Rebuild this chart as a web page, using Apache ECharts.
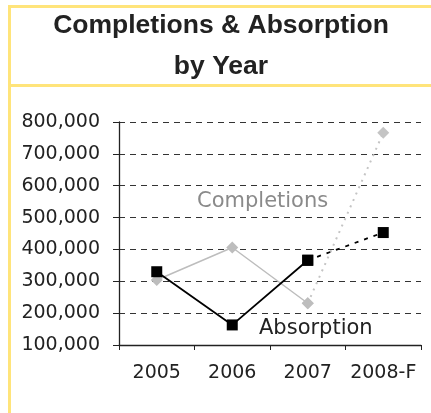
<!DOCTYPE html>
<html>
<head>
<meta charset="utf-8">
<script src="https://cdn.jsdelivr.net/npm/echarts@6/dist/echarts.min.js"></script>
<style>
  html, body { margin: 0; padding: 0; background: #fff; }
  #chart { width: 431px; height: 413px; }
</style>
</head>
<body>
<div id="chart"></div>
<script>
// Annual figures; 2008 is a forecast
const years = ['2005', '2006', '2007', '2008-F'];
const completions = [304000, 406000, 231000, 766000];
const absorption = [330000, 163000, 366000, 453000];
const yTicks = { min: 100000, max: 800000, step: 100000 };

// Actual years drawn solid, the forecast leg drawn as a broken line
const lastActual = 2;
const actualPart = arr => arr.map((v, i) => (i <= lastActual ? v : null));
const forecastPart = arr => arr.map((v, i) => (i >= lastActual ? v : null));

const frameColor = '#ffe47a';
const tickFont = '"DejaVu Sans", Verdana, sans-serif';
const titleFont = 'bold 26.5px "Liberation Sans", Arial, sans-serif';

const chart = echarts.init(document.getElementById('chart'), null, { renderer: 'canvas' });

chart.setOption({
  animation: false,
  backgroundColor: '#fff',
  grid: { left: 119, right: 10, top: 122, bottom: 68, containLabel: false },
  xAxis: {
    type: 'category',
    data: years,
    boundaryGap: true,
    axisLine: { lineStyle: { color: '#222', width: 1.3 } },
    axisTick: { show: true, length: 5, lineStyle: { color: '#222' } },
    axisLabel: {
      color: '#222', fontSize: 19, fontFamily: tickFont, margin: 19,
      interval: 0, hideOverlap: false
    }
  },
  yAxis: {
    type: 'value',
    min: yTicks.min,
    max: yTicks.max,
    interval: yTicks.step,
    axisLine: { show: true, lineStyle: { color: '#222', width: 1.3 } },
    axisTick: { show: true, length: 6, lineStyle: { color: '#222' } },
    axisLabel: {
      color: '#222', fontSize: 19, fontFamily: tickFont, margin: 19,
      formatter: v => v.toLocaleString('en-US')
    },
    splitLine: { show: true, lineStyle: { color: '#333', type: [6, 5], width: 1 } }
  },
  series: [
    {
      name: 'Completions', type: 'line', data: actualPart(completions),
      symbol: 'diamond', symbolSize: 12, showAllSymbol: true,
      lineStyle: { color: '#bdbdbd', width: 1.5 },
      itemStyle: { color: '#bdbdbd' }, z: 2
    },
    {
      name: 'Completions forecast', type: 'line', data: forecastPart(completions),
      symbol: 'diamond', symbolSize: 12,
      lineStyle: { color: '#c4c4c4', width: 2, type: [2, 5] },
      itemStyle: { color: '#c4c4c4' }, z: 1
    },
    {
      name: 'Absorption', type: 'line', data: actualPart(absorption),
      symbol: 'rect', symbolSize: 11,
      lineStyle: { color: '#000', width: 1.8 },
      itemStyle: { color: '#000' }, z: 4
    },
    {
      name: 'Absorption forecast', type: 'line', data: forecastPart(absorption),
      symbol: 'rect', symbolSize: 11,
      lineStyle: { color: '#000', width: 1.8, type: [4, 6] },
      itemStyle: { color: '#000' }, z: 3
    }
  ],
  graphic: [
    // framing panel
    { type: 'rect', shape: { x: 8, y: 5, width: 440, height: 3 }, style: { fill: frameColor }, silent: true },
    { type: 'rect', shape: { x: 8, y: 84, width: 440, height: 3 }, style: { fill: frameColor }, silent: true },
    { type: 'rect', shape: { x: 8, y: 5, width: 3, height: 420 }, style: { fill: frameColor }, silent: true },
    // title
    {
      type: 'text', x: 221, y: 26,
      style: { text: 'Completions & Absorption', fill: '#222', font: titleFont, align: 'center', verticalAlign: 'middle' }
    },
    {
      type: 'text', x: 221, y: 67,
      style: { text: 'by Year', fill: '#222', font: titleFont, align: 'center', verticalAlign: 'middle' }
    },
    // series names drawn beside the lines
    {
      type: 'text', x: 197, y: 201.5,
      style: { text: 'Completions', fill: '#8a8a8a', font: '21px ' + tickFont, verticalAlign: 'middle' }
    },
    {
      type: 'text', x: 259, y: 328.5,
      style: { text: 'Absorption', fill: '#222', font: '21px ' + tickFont, verticalAlign: 'middle' }
    }
  ]
});
</script>
</body>
</html>
